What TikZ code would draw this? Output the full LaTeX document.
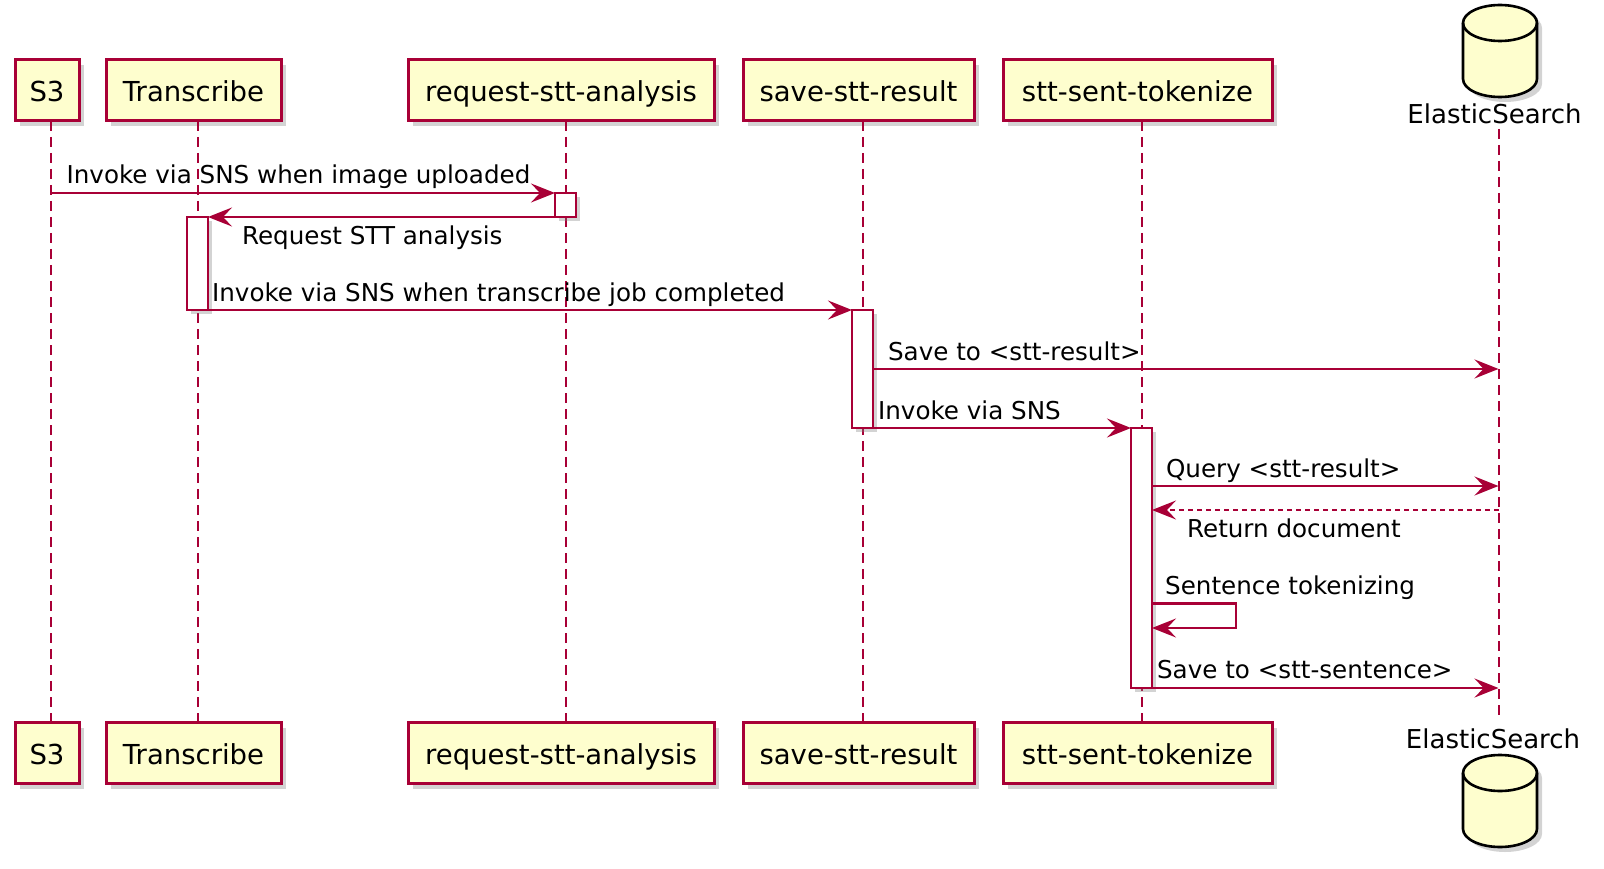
\documentclass[tikz,border=0pt]{standalone}
\usepackage{fontspec}
\setmainfont{DejaVu Sans}
\usetikzlibrary{arrows.meta,shadows}
\definecolor{umlred}{HTML}{A80036}
\definecolor{umlfill}{HTML}{FEFECE}
\tikzset{
	participant/.style={draw=umlred, fill=umlfill, line width=3pt, minimum height=61pt, inner sep=0pt,
		text height=26pt, text depth=4pt, font=\fontsize{27.5}{33}\selectfont,
		drop shadow={opacity=0.35, shadow xshift=5pt, shadow yshift=-5pt}},
	lifeline/.style={draw=umlred, line width=2pt, dash pattern=on 10pt off 6pt},
	actbar/.style={draw=umlred, fill=white, line width=2.2pt, minimum width=21pt, inner sep=0pt, outer sep=0pt,
		drop shadow={opacity=0.35, shadow xshift=4pt, shadow yshift=-4pt}},
	msg/.style={draw=umlred, line width=2.2pt, -{Stealth[length=24pt, width=19pt, inset=9pt]}},
	reply/.style={msg, dash pattern=on 5pt off 4pt},
	msglabel/.style={font=\fontsize{24.6}{29}\selectfont, inner sep=0pt, anchor=base west},
	dblabel/.style={font=\fontsize{26}{31}\selectfont, inner sep=0pt, anchor=base},
	dbshape/.style={draw=black, fill=umlfill, line width=2.6pt}
}
\begin{document}
\begin{tikzpicture}[x=1pt, y=-1pt]
	\useasboundingbox (0,0) rectangle (1604,869);

	% участники сверху
	\node [participant, minimum width=64pt] (s3top) at ( 47.0, 90.5 ) {S3};
	\node [participant, minimum width=175pt] (trantop) at ( 193.5, 90.5 ) {Transcribe};
	\node [participant, minimum width=306pt] (reqtop) at ( 561.0, 90.5 ) {request-stt-analysis};
	\node [participant, minimum width=231pt] (savetop) at ( 858.5, 90.5 ) {save-stt-result};
	\node [participant, minimum width=269pt] (toktop) at ( 1137.5, 90.5 ) {stt-sent-tokenize};

	% участники снизу
	\node [participant, minimum width=64pt] (s3bot) at ( 47.0, 753.0 ) {S3};
	\node [participant, minimum width=175pt] (tranbot) at ( 193.5, 753.0 ) {Transcribe};
	\node [participant, minimum width=306pt] (reqbot) at ( 561.0, 753.0 ) {request-stt-analysis};
	\node [participant, minimum width=231pt] (savebot) at ( 858.5, 753.0 ) {save-stt-result};
	\node [participant, minimum width=269pt] (tokbot) at ( 1137.5, 753.0 ) {stt-sent-tokenize};

	% база данных сверху
	\begin{scope}[shift={( 1505, 28 )}]
		\fill [gray, opacity=0.35] ( -37, 0 ) -- ( -37, 56 ) arc [start angle=180, end angle=360, x radius=37pt, y radius=18pt]
			-- ( 37, 0 ) arc [start angle=0, end angle=180, x radius=37pt, y radius=18pt] -- cycle;
	\end{scope}
	\begin{scope}[shift={( 1500, 23 )}]
		\filldraw [dbshape] ( -37, 0 ) -- ( -37, 56 ) arc [start angle=180, end angle=360, x radius=37pt, y radius=18pt]
			-- ( 37, 0 ) arc [start angle=0, end angle=180, x radius=37pt, y radius=18pt] -- cycle;
		\draw [dbshape, fill=none] ( -37, 0 ) arc [start angle=180, end angle=360, x radius=37pt, y radius=18pt];
	\end{scope}
	\node [dblabel] (estop) at ( 1494.5, 124.0 ) {ElasticSearch};

	% база данных снизу
	\begin{scope}[shift={( 1505, 778 )}]
		\fill [gray, opacity=0.35] ( -37, 0 ) -- ( -37, 56 ) arc [start angle=180, end angle=360, x radius=37pt, y radius=18pt]
			-- ( 37, 0 ) arc [start angle=0, end angle=180, x radius=37pt, y radius=18pt] -- cycle;
	\end{scope}
	\begin{scope}[shift={( 1500, 773 )}]
		\filldraw [dbshape] ( -37, 0 ) -- ( -37, 56 ) arc [start angle=180, end angle=360, x radius=37pt, y radius=18pt]
			-- ( 37, 0 ) arc [start angle=0, end angle=180, x radius=37pt, y radius=18pt] -- cycle;
		\draw [dbshape, fill=none] ( -37, 0 ) arc [start angle=180, end angle=360, x radius=37pt, y radius=18pt];
	\end{scope}
	\node [dblabel] (esbot) at ( 1493.0, 748.5 ) {ElasticSearch};

	% линии жизни
	\coordinate (s3line) at ( 50.5, 121 );
	\coordinate (tranline) at ( 197.5, 121 );
	\coordinate (reqline) at ( 565.5, 121 );
	\coordinate (saveline) at ( 862.5, 121 );
	\coordinate (tokline) at ( 1141.5, 121 );
	\coordinate (esline) at ( 1498.5, 129 );
	\coordinate (eslineend) at ([yshift=8pt]esbot.north);
	\draw [lifeline] (s3line) -- (s3line |- s3bot.north);
	\draw [lifeline] (tranline) -- (tranline |- tranbot.north);
	\draw [lifeline] (reqline) -- (reqline |- reqbot.north);
	\draw [lifeline] (saveline) -- (saveline |- savebot.north);
	\draw [lifeline] (tokline) -- (tokline |- tokbot.north);
	\draw [lifeline] (esline) -- (esline |- eslineend);

	% активации
	\node [actbar, minimum height=24pt] (actreq) at ( 565.5, 205.0 ) {};
	\node [actbar, minimum height=93pt] (acttran) at ( 197.5, 263.5 ) {};
	\node [actbar, minimum height=118pt] (actsave) at ( 862.5, 369.0 ) {};
	\node [actbar, minimum height=260pt] (acttok) at ( 1141.5, 558.0 ) {};

	% сообщения
	\draw [msg] (s3line |- actreq.north west) -- (actreq.north west)
		node [msglabel, pos=0, xshift=15pt, yshift=9pt] (lblupload) {Invoke via SNS when image uploaded};
	\draw [msg] (actreq.south west) -- (acttran.north east)
		node [msglabel, pos=1, xshift=33pt, yshift=-27pt] (lblrequest) {Request STT analysis};
	\draw [msg] (acttran.south east) -- (actsave.north west)
		node [msglabel, pos=0, xshift=3pt, yshift=9pt] (lbljob) {Invoke via SNS when transcribe job completed};
	\draw [msg] (actsave.east) -- (actsave.east -| esline)
		node [msglabel, pos=0, xshift=14pt, yshift=9pt] (lblresult) {Save to <stt-result>};
	\draw [msg] (actsave.south east) -- (acttok.north west)
		node [msglabel, pos=0, xshift=4pt, yshift=9pt] (lblsns) {Invoke via SNS};

	\coordinate (tokquery) at ([yshift=-58pt]acttok.north east);
	\coordinate (tokreturn) at ([yshift=-82pt]acttok.north east);
	\coordinate (tokself) at ([yshift=-175.5pt]acttok.north east);
	\coordinate (tokback) at ([yshift=-200pt]acttok.north east);

	\draw [msg] (tokquery) -- (tokquery -| esline)
		node [msglabel, pos=0, xshift=13pt, yshift=9pt] (lblquery) {Query <stt-result>};
	\draw [reply] (tokreturn -| esline) -- (tokreturn)
		node [msglabel, pos=1, xshift=34pt, yshift=-27pt] (lblreturn) {Return document};
	\draw [msg] (tokself) -- ++( 84, 0 ) -- ++( 0, 24.5 ) -- (tokback);
	\node [msglabel] (lbltoken) at ([xshift=13pt, yshift=9.5pt]tokself) {Sentence tokenizing};
	\draw [msg] (acttok.south east) -- (acttok.south east -| esline)
		node [msglabel, pos=0, xshift=4pt, yshift=10pt] (lblsentence) {Save to <stt-sentence>};
\end{tikzpicture}
\end{document}
